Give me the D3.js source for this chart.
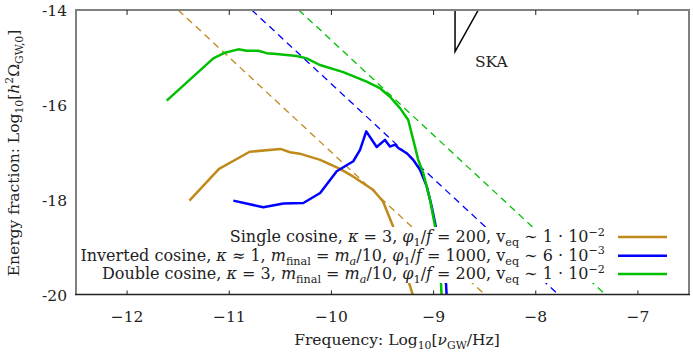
<!DOCTYPE html>
<html>
<head>
<meta charset="utf-8">
<script src="https://cdn.jsdelivr.net/npm/d3@7"></script>
<style>
body { margin: 0; background: #fff; }
svg text { font-family: "DejaVu Serif", "Liberation Serif", serif; fill: #222; }
</style>
</head>
<body>
<div id="chart"></div>
<script>

// axis ticks
var xTicks = [-12, -11, -10, -9, -8, -7];
var yTicks = [-14, -16, -18, -20];

// single cosine (gold)
var singleX = [-11.39, -11.10, -10.80, -10.50, -10.405, -10.31, -10.11, -9.916, -9.789, -9.593, -9.495, -9.397, -9.241, -9.19];
var singleY = [-18.02, -17.35, -16.99, -16.93, -17.00, -17.03, -17.16, -17.35, -17.51, -17.79, -18.04, -18.56, -19.75, -20.1];

// inverted cosine (blue)
var invX = [-10.96, -10.667, -10.47, -10.275, -10.11, -9.948, -9.786, -9.72, -9.659, -9.557, -9.476, -9.427, -9.378, -9.345, -9.263, -9.199, -9.133, -9.067, -9.019, -8.986, -8.879, -8.87];
var invY = [-18.02, -18.16, -18.08, -18.07, -17.86, -17.40, -17.19, -16.95, -16.56, -16.89, -16.74, -16.88, -16.84, -16.91, -17.02, -17.16, -17.37, -17.72, -18.14, -18.48, -19.75, -20.1];

// double cosine (green)
var dblX = [-11.612, -11.156, -11.042, -10.911, -10.829, -10.716, -10.634, -10.536, -10.34, -10.242, -10.112, -9.884, -9.818, -9.655, -9.525, -9.427, -9.329, -9.248, -9.199, -9.15, -9.101, -9.035, -8.986, -8.928, -8.92];
var dblY = [-15.91, -15.02, -14.90, -14.83, -14.86, -14.86, -14.91, -14.93, -14.97, -15.02, -15.16, -15.31, -15.37, -15.51, -15.65, -15.83, -16.07, -16.32, -16.74, -17.16, -17.44, -18.0, -18.56, -19.75, -20.1];

// dashed tails
var singleTailX = [-11.50, -8.50], singleTailY = [-14, -20];
var invTailX = [-10.78, -7.78], invTailY = [-14, -20];
var dblTailX = [-10.32, -7.32], dblTailY = [-14, -20];

// SKA sensitivity
var skaX = [-8.79, -8.79, -8.562, -8.43];
var skaY = [-13.5, -14.878, -14.0, -13.5];

var colors = ["#bf8a1b", "#0000ff", "#00c000"];

var width = 693, height = 353;
var pLeft = 76, pRight = 689, pTop = 10, pBottom = 294.5;
var fs = 15.5, legendFs = 16;

var svg = d3.select("#chart").append("svg")
	.attr("width", width)
	.attr("height", height);

var x = d3.scaleLinear().domain([-12.5, -6.5]).range([pLeft, pRight]);
var y = d3.scaleLinear().domain([-20, -14]).range([pBottom, pTop]);

svg.append("clipPath").attr("id", "clip")
	.append("rect")
	.attr("x", pLeft).attr("y", pTop)
	.attr("width", pRight - pLeft).attr("height", pBottom - pTop);

var plot = svg.append("g").attr("clip-path", "url(#clip)");

function zip(xs, ys) {
	return xs.map(function(d, i) { return [d, ys[i]]; });
}

var line = d3.line()
	.x(function(d) { return x(d[0]); })
	.y(function(d) { return y(d[1]); });

// dashed lines
[[singleTailX, singleTailY], [invTailX, invTailY], [dblTailX, dblTailY]].forEach(function(s, i) {
	plot.append("path")
		.attr("d", line(zip(s[0], s[1])))
		.attr("fill", "none")
		.attr("stroke", colors[i])
		.attr("stroke-width", 1.3)
		.attr("stroke-dasharray", "7,5");
});

// solid curves
[[singleX, singleY], [invX, invY], [dblX, dblY]].forEach(function(s, i) {
	plot.append("path")
		.attr("d", line(zip(s[0], s[1])))
		.attr("fill", "none")
		.attr("stroke", colors[i])
		.attr("stroke-width", 2.5)
		.attr("stroke-linejoin", "round");
});

plot.append("path")
	.attr("d", line(zip(skaX, skaY)))
	.attr("fill", "none")
	.attr("stroke", "#000")
	.attr("stroke-width", 1.5);

svg.append("text")
	.attr("x", 475).attr("y", 67)
	.attr("font-size", fs)
	.text("SKA");

// frame
svg.append("path")
	.attr("d", "M" + pLeft + "," + pBottom + "V" + pTop + "H" + pRight + "V" + pBottom)
	.attr("fill", "none")
	.attr("stroke", "#808080")
	.attr("stroke-width", 2);
svg.append("line")
	.attr("x1", pLeft - 1).attr("x2", pRight + 1)
	.attr("y1", pBottom).attr("y2", pBottom)
	.attr("stroke", "#222")
	.attr("stroke-width", 1.5);

// ticks
svg.selectAll(".tb").data(xTicks).enter().append("line")
	.attr("x1", function(d) { return x(d); }).attr("x2", function(d) { return x(d); })
	.attr("y1", pBottom).attr("y2", pBottom - 4)
	.attr("stroke", "#222");
svg.selectAll(".tt").data(xTicks).enter().append("line")
	.attr("x1", function(d) { return x(d); }).attr("x2", function(d) { return x(d); })
	.attr("y1", pTop).attr("y2", pTop + 5)
	.attr("stroke", "#222");

svg.selectAll(".xl").data(xTicks).enter().append("text")
	.attr("x", function(d) { return x(d); })
	.attr("y", 322)
	.attr("text-anchor", "middle")
	.attr("font-size", fs)
	.text(function(d) { return "\u2212" + Math.abs(d); });

svg.selectAll(".yl").data(yTicks).enter().append("text")
	.attr("x", 67)
	.attr("y", function(d) { return y(d) + 6; })
	.attr("text-anchor", "end")
	.attr("font-size", fs)
	.text(function(d) { return "-" + Math.abs(d); });

// rich text helper: segments of [text, style]
function rich(sel, segs, size) {
	var small = size * 0.7;
	var shift = 0;
	segs.forEach(function(s) {
		var t = sel.append("tspan").text(s[0]);
		var st = s[1] || "";
		var want = 0;
		if (st.indexOf("sub") >= 0) want = size * 0.25;
		if (st.indexOf("sup") >= 0) want = -size * 0.4;
		if (want != shift) { t.attr("dy", want - shift); shift = want; }
		if (st.indexOf("sub") >= 0 || st.indexOf("sup") >= 0) t.attr("font-size", small);
		if (st.indexOf("i") === 0) t.attr("font-style", "italic");
	});
}

// axis titles
var xt = svg.append("text")
	.attr("x", 397).attr("y", 345)
	.attr("text-anchor", "middle")
	.attr("font-size", fs);
rich(xt, [["Frequency: Log"], ["10", "sub"], ["["], ["\u03bd", "i"], ["GW", "sub"], ["/Hz]"]], fs);

var yt = svg.append("text")
	.attr("transform", "translate(19,153) rotate(-90)")
	.attr("text-anchor", "middle")
	.attr("font-size", fs);
rich(yt, [["Energy fraction: Log"], ["10", "sub"], ["["], ["h", "i"], ["2", "sup"], ["\u03a9"], ["GW,0", "sub"], ["]"]], fs);

// legend
svg.append("rect")
	.attr("x", 77).attr("y", 227)
	.attr("width", 611).attr("height", 56)
	.attr("fill", "#fff");

var legendRows = [
	[["Single cosine, "], ["\u03ba", "i"], [" = 3, "], ["\u03c6", "i"], ["1", "sub"], ["/"], ["f", "i"], [" = 200, v"], ["eq", "sub"], [" \u223c 1 \u00b7 10"], ["\u22122", "sup"]],
	[["Inverted cosine, "], ["\u03ba", "i"], [" \u2248 1, "], ["m", "i"], ["final", "sub"], [" = "], ["m", "i"], ["a", "isub"], ["/10, "], ["\u03c6", "i"], ["1", "sub"], ["/"], ["f", "i"], [" = 1000, v"], ["eq", "sub"], [" \u223c 6 \u00b7 10"], ["\u22123", "sup"]],
	[["Double cosine, "], ["\u03ba", "i"], [" = 3, "], ["m", "i"], ["final", "sub"], [" = "], ["m", "i"], ["a", "isub"], ["/10, "], ["\u03c6", "i"], ["1", "sub"], ["/"], ["f", "i"], [" = 200, v"], ["eq", "sub"], [" \u223c 1 \u00b7 10"], ["\u22122", "sup"]]
];
var legendBase = [242, 260.5, 279];
var legendLineY = [237, 255.7, 274];

legendRows.forEach(function(r, i) {
	var t = svg.append("text")
		.attr("x", 605).attr("y", legendBase[i])
		.attr("text-anchor", "end")
		.attr("font-size", legendFs);
	rich(t, r, legendFs);
	svg.append("line")
		.attr("x1", 618).attr("x2", 667)
		.attr("y1", legendLineY[i]).attr("y2", legendLineY[i])
		.attr("stroke", colors[i])
		.attr("stroke-width", 2.5);
});

</script>
</body>
</html>
